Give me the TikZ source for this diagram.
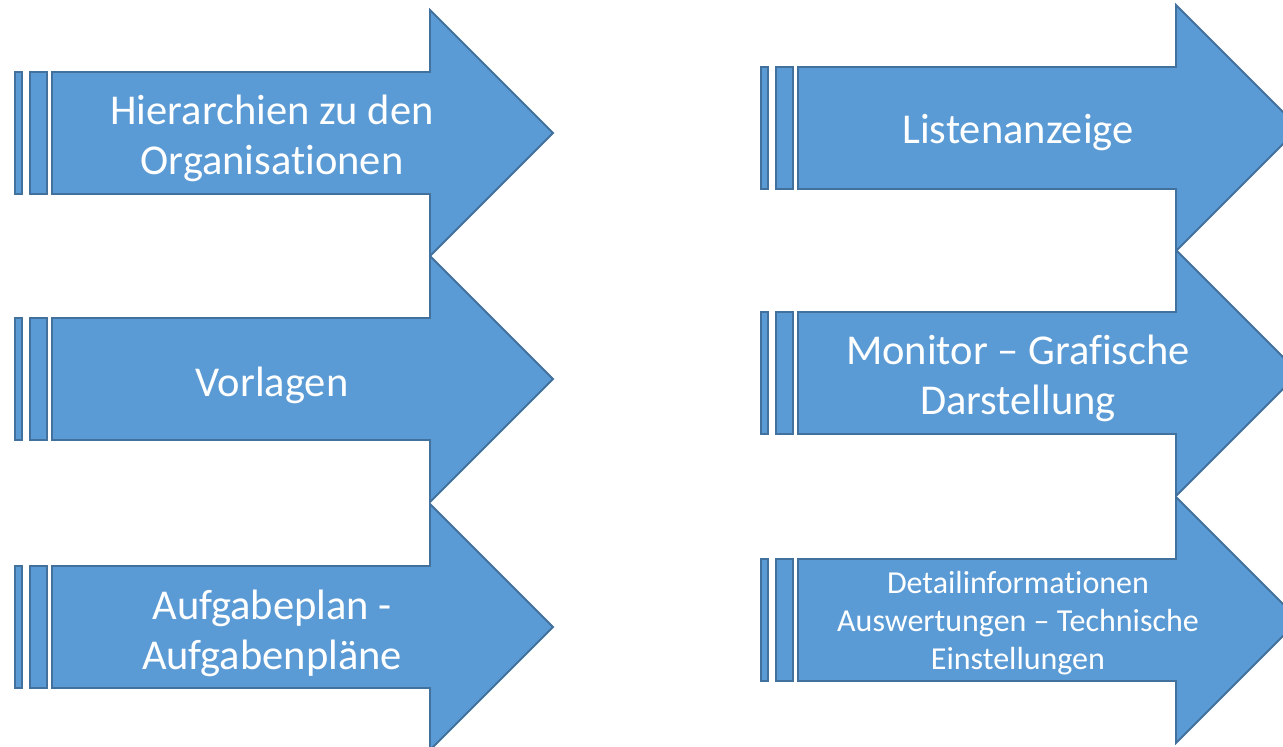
\documentclass[tikz,border=0pt]{standalone}
\usepackage{fontspec}
\setmainfont{Carlito}[Ligatures=NoCommon]
\usepackage{tikz}

\definecolor{arrowfill}{HTML}{5B9BD5}
\definecolor{arrowline}{HTML}{41719C}

\begin{document}
\begin{tikzpicture}[x=1pt, y=-1pt,
	blk/.style={fill=arrowfill, draw=arrowline, line width=1.8pt, line join=miter},
	lbl/.style={text=white, align=center, font=\fontsize{42.5}{50}\selectfont},
	lblsmall/.style={text=white, align=center, font=\fontsize{32}{38}\selectfont}]
	\clip (0,0) rectangle (1283,747);
	\useasboundingbox (0,0) rectangle (1283,747);
	% six striped block arrows (x offset / y centre)
	\foreach \x/\y in {0/133, 0/379, 0/627, 746/128, 746/373, 746/620} {
		\draw[blk] (\x+15,\y-61) rectangle (\x+22,\y+61);
		\draw[blk] (\x+30,\y-61) rectangle (\x+47,\y+61);
		\draw[blk] (\x+52,\y-61) -- (\x+430,\y-61) -- (\x+430,\y-123) -- (\x+553,\y)
			-- (\x+430,\y+123) -- (\x+430,\y+61) -- (\x+52,\y+61) -- cycle;
	}
	\node[lbl] (hier) at (272,138) {Hierarchien zu den\\Organisationen};
	\node[lbl] (vorl) at (272,385) {Vorlagen};
	\node[lbl] (plan) at (272,633) {Aufgabeplan -\\Aufgabenpläne};
	\node[lbl] (list) at (1018,133) {Listenanzeige};
	\node[lbl] (moni) at (1018,378) {Monitor \textendash{} Grafische\\Darstellung};
	\node[lblsmall] (detl) at (1018,623) {Detailinformationen\\Auswertungen \textendash{} Technische\\Einstellungen};
\end{tikzpicture}
\end{document}
